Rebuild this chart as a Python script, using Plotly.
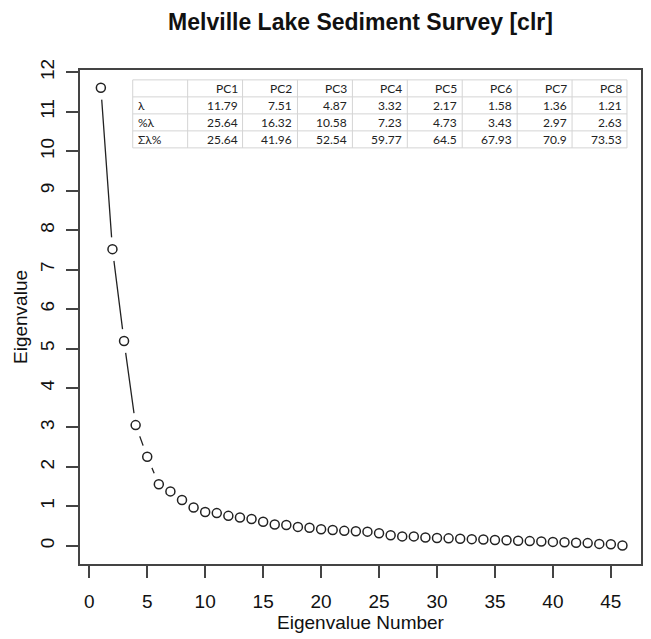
import plotly.graph_objects as go

# Scree data
eig_number = list(range(1, 47))
eigenvalues = [11.61, 7.52, 5.19, 3.06, 2.26, 1.56, 1.38, 1.16, 0.97, 0.86,
               0.83, 0.76, 0.72, 0.68, 0.61, 0.54, 0.53, 0.48, 0.46, 0.42,
               0.40, 0.38, 0.37, 0.36, 0.32, 0.27, 0.24, 0.24, 0.21, 0.20,
               0.19, 0.18, 0.17, 0.16, 0.15, 0.14, 0.13, 0.12, 0.11, 0.10,
               0.09, 0.08, 0.07, 0.05, 0.04, 0.01]

# Table content
pc_labels = ["PC1", "PC2", "PC3", "PC4", "PC5", "PC6", "PC7", "PC8"]
row_labels = ["λ", "%λ", "Σλ%"]
lam = ["11.79", "7.51", "4.87", "3.32", "2.17", "1.58", "1.36", "1.21"]
pct_lam = ["25.64", "16.32", "10.58", "7.23", "4.73", "3.43", "2.97", "2.63"]
cum_pct = ["25.64", "41.96", "52.54", "59.77", "64.5", "67.93", "70.9", "73.53"]

x_ticks = [0, 5, 10, 15, 20, 25, 30, 35, 40, 45]
y_ticks = list(range(0, 13))

AX = "#444444"
FONT = "Liberation Sans, Arial, sans-serif"
TFONT = "Lato"

fig = go.Figure()

# connecting line
fig.add_trace(go.Scatter(x=eig_number, y=eigenvalues, mode="lines",
                         line=dict(color="#222222", width=1.3),
                         hoverinfo="skip", showlegend=False))
# white masks to create R-style gaps around points
fig.add_trace(go.Scatter(x=eig_number, y=eigenvalues, mode="markers",
                         marker=dict(symbol="circle", size=24, color="white",
                                     opacity=1, line=dict(width=0)),
                         hoverinfo="skip", showlegend=False))
# open circles
fig.add_trace(go.Scatter(x=eig_number, y=eigenvalues, mode="markers",
                         marker=dict(symbol="circle", size=9, color="white",
                                     line=dict(color="#222222", width=1.5)),
                         showlegend=False))

# ---- table built from shapes + annotations (paper coordinates) ----
PLOT_W, PLOT_H = 563, 494
tx0, tx1, ty_top = 0.094, 0.975, 0.98
row_h = 17 / PLOT_H
ncols = 9
col_w = (tx1 - tx0) / ncols
pad_x = 3 / PLOT_W
header = [""] + pc_labels
body = [[row_labels[r]] + [lam, pct_lam, cum_pct][r] for r in range(3)]
rows = [header] + body
nrows = len(rows)
GRID = "#d4d4d4"

shapes = []
for r in range(nrows + 1):
    yy = ty_top - r * row_h
    shapes.append(dict(type="line", xref="paper", yref="paper",
                       x0=tx0, x1=tx1, y0=yy, y1=yy,
                       line=dict(color=GRID, width=1)))
for c in range(ncols + 1):
    xx = tx0 + c * col_w
    shapes.append(dict(type="line", xref="paper", yref="paper",
                       x0=xx, x1=xx, y0=ty_top, y1=ty_top - nrows * row_h,
                       line=dict(color=GRID, width=1)))

annotations = []
for r, row in enumerate(rows):
    yc = ty_top - (r + 0.5) * row_h
    for c, txt in enumerate(row):
        if txt == "":
            continue
        if c == 0:
            xa, anchor = tx0 + pad_x, "left"
        else:
            xa, anchor = tx0 + (c + 1) * col_w - pad_x, "right"
        annotations.append(dict(text=txt, x=xa, y=yc, xref="paper", yref="paper",
                                xanchor=anchor, yanchor="middle", showarrow=False,
                                font=dict(family=TFONT, size=12, color="#222222")))

fig.update_layout(
    width=651, height=639,
    margin=dict(l=80, r=8, t=70, b=75),
    paper_bgcolor="white", plot_bgcolor="white",
    font=dict(family=FONT, color="#111111"),
    shapes=shapes, annotations=annotations,
    title=dict(text="<b>Melville Lake Sediment Survey [clr]</b>",
               font=dict(size=23, family=FONT, color="#111111"),
               x=0.5, xref="paper", y=1 - 22 / 639, yref="container",
               xanchor="center", yanchor="middle"),
    xaxis=dict(range=[-0.8, 47.6], tickvals=x_ticks, ticks="outside",
               ticklen=12, tickwidth=1.5, tickcolor=AX,
               ticklabelstandoff=7,
               showline=True, mirror=True, linecolor=AX, linewidth=1.5,
               showgrid=False, zeroline=False,
               tickfont=dict(size=19, family=FONT, color="#111111"),
               title=dict(text="Eigenvalue Number", standoff=4,
                          font=dict(size=19, family=FONT, color="#111111"))),
    yaxis=dict(range=[-0.46, 12.06], tickvals=y_ticks, ticks="outside",
               ticklen=12, tickwidth=1.5, tickcolor=AX, tickangle=-90,
               ticklabelstandoff=5,
               showline=True, mirror=True, linecolor=AX, linewidth=1.5,
               showgrid=False, zeroline=False,
               tickfont=dict(size=19, family=FONT, color="#111111"),
               title=dict(text="Eigenvalue", standoff=4,
                          font=dict(size=19, family=FONT, color="#111111"))),
)

fig.write_html("out.html")
